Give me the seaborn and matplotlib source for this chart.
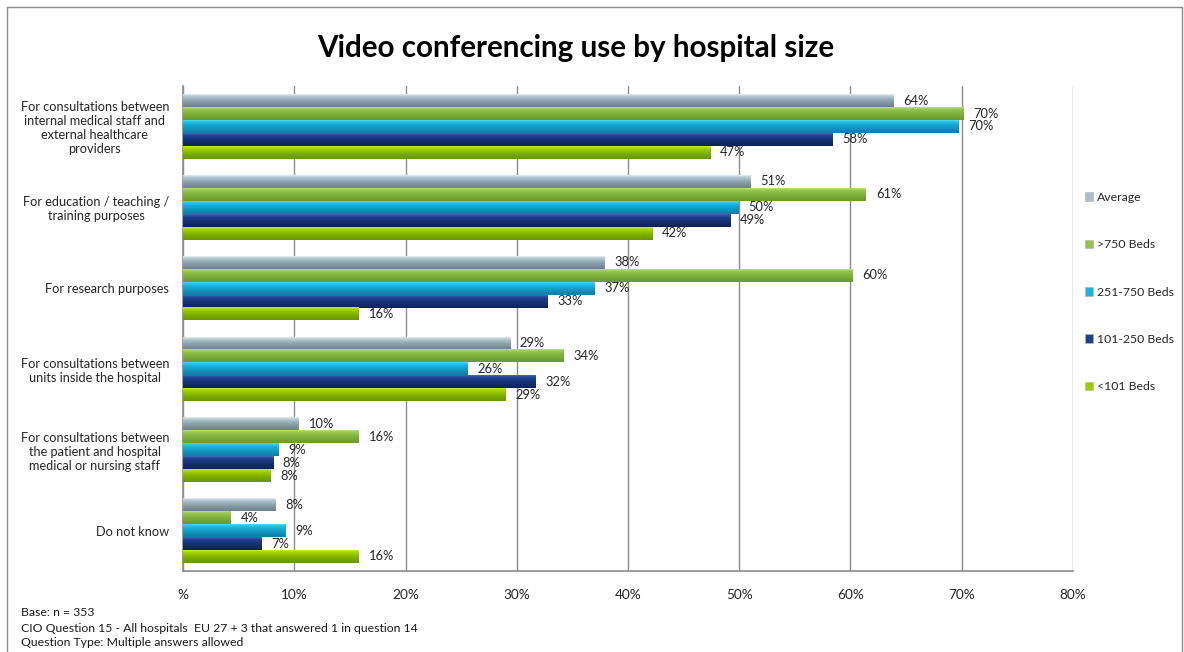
import numpy as np
import pandas as pd
import matplotlib
matplotlib.use("Agg")
import matplotlib.pyplot as plt
import seaborn as sns
from matplotlib.colors import LinearSegmentedColormap
from matplotlib.patches import Patch
from matplotlib.lines import Line2D

# Data (percent of hospitals)
categories = [
    "For consultations between\ninternal medical staff and\nexternal healthcare\nproviders",
    "For education / teaching /\ntraining purposes",
    "For research purposes",
    "For consultations between\nunits inside the hospital",
    "For consultations between\nthe patient and hospital\nmedical or nursing staff",
    "Do not know",
]
groups = ["Average", ">750 Beds", "251-750 Beds", "101-250 Beds", "<101 Beds"]
average = [63.9, 51.0, 37.9, 29.4, 10.4, 8.3]
beds_750 = [70.2, 61.4, 60.2, 34.2, 15.8, 4.3]
beds_251 = [69.7, 49.9, 37.0, 25.6, 8.6, 9.2]
beds_101 = [58.4, 49.2, 32.8, 31.7, 8.1, 7.1]
beds_lt101 = [47.4, 42.2, 15.8, 29.0, 7.9, 15.8]
x_ticks = [0, 10, 20, 30, 40, 50, 60, 70, 80]
x_ticklabels = ["%", "10%", "20%", "30%", "40%", "50%", "60%", "70%", "80%"]

series = [average, beds_750, beds_251, beds_101, beds_lt101]
df = pd.DataFrame({
    "category": categories * len(groups),
    "group": [g for g in groups for _ in categories],
    "value": [v for s in series for v in s],
})

# gradient shades for the Excel-like bevelled bars: top, mid, bottom
shades = {
    "Average": ["#f2fafd", "#a9bfca", "#6c818c"],
    ">750 Beds": ["#c4e68a", "#93c24a", "#6a9a2e"],
    "251-750 Beds": ["#5fe2fb", "#1db5df", "#0f7ea6"],
    "101-250 Beds": ["#4a72c6", "#1f3f8f", "#0d2457"],
    "<101 Beds": ["#d2f53c", "#9bcd00", "#679600"],
}
mid_colors = [shades[g][1] for g in groups]

sns.set_style("white")
plt.rcParams["font.family"] = ["Lato", "DejaVu Sans"]

fig = plt.figure(figsize=(11.84, 6.52), dpi=100)
ax = fig.add_axes([0.1546, 0.1242, 0.9062 - 0.1546, 0.868 - 0.1242])

sns.barplot(data=df, y="category", x="value", hue="group", hue_order=groups,
            order=categories, palette=mid_colors, orient="h", width=0.8,
            saturation=1, ax=ax, legend=False, errorbar=None)

ax.set_xlim(0, 80)
ylim = ax.get_ylim()

# paint each bar with a vertical gradient
for i, cont in enumerate(ax.containers):
    cmap = LinearSegmentedColormap.from_list("g", shades[groups[i]])
    grad = np.linspace(0, 1, 64).reshape(-1, 1)
    grad = np.sqrt(grad)
    for bar in cont:
        x0, y0 = bar.get_x(), bar.get_y()
        w, h = bar.get_width(), bar.get_height()
        ax.imshow(grad, cmap=cmap, aspect="auto", origin="upper",
                  extent=(x0, x0 + w, y0 + h, y0), zorder=3,
                  interpolation="bilinear")
        bar.set_alpha(0)
    labels = [f"{round(b.get_width())}%" for b in cont]
    ax.bar_label(cont, labels=labels, padding=7, fontsize=9.3, color="#262626")

ax.set_xlim(0, 80)
ax.set_ylim(ylim)

# axes styling
ax.set_xticks(x_ticks)
ax.set_xticklabels(x_ticklabels, fontsize=9.8)
ax.set_xlabel("")
ax.set_ylabel("")
ax.grid(axis="x", color="#8c8c8c", linewidth=1)
ax.set_axisbelow(True)
for s in ["top", "right"]:
    ax.spines[s].set_visible(False)
for s in ["left", "bottom"]:
    ax.spines[s].set_color("#8c8c8c")
    ax.spines[s].set_linewidth(1.2)
ax.tick_params(axis="x", length=4, color="#8c8c8c", pad=9)
ax.tick_params(axis="y", which="major", length=0, pad=10, labelsize=9.2)
ax.set_yticks(np.arange(-0.5, len(categories), 1), minor=True)
ax.tick_params(axis="y", which="minor", length=5, color="#8c8c8c")
for lbl in ax.get_yticklabels():
    lbl.set_multialignment("center")

# legend
handles = [Patch(facecolor=c, edgecolor="#b0b0b0", linewidth=0.4) for c in mid_colors]
fig.legend(handles, groups, loc="upper left", bbox_to_anchor=(0.912, 0.713),
           frameon=False, fontsize=8.8, handlelength=0.7, handleheight=0.7,
           handletextpad=0.3, labelspacing=2.97, borderaxespad=0)

# title and notes
fig.text(0.486, 0.926, "Video conferencing use by hospital size",
         ha="center", va="center", fontsize=21.3, fontweight="bold",
         color="black")
notes = ["Base: n = 353",
         "CIO Question 15 - All hospitals  EU 27 + 3 that answered 1 in question 14",
         "Question Type: Multiple answers allowed"]
for k, t in enumerate(notes):
    fig.text(0.018, 1 - (613 + 15 * k) / 652, t, ha="left", va="center",
             fontsize=8.8, color="#1a1a1a")

# outer frame
for xs, ys in [([0.006, 0.006], [0.0, 0.99]), ([0.006, 0.998], [0.99, 0.99]),
               ([0.998, 0.998], [0.0, 0.99])]:
    fig.add_artist(Line2D(xs, ys, color="#8c8c8c", linewidth=1,
                          transform=fig.transFigure))

fig.savefig("out.png", dpi=100)
